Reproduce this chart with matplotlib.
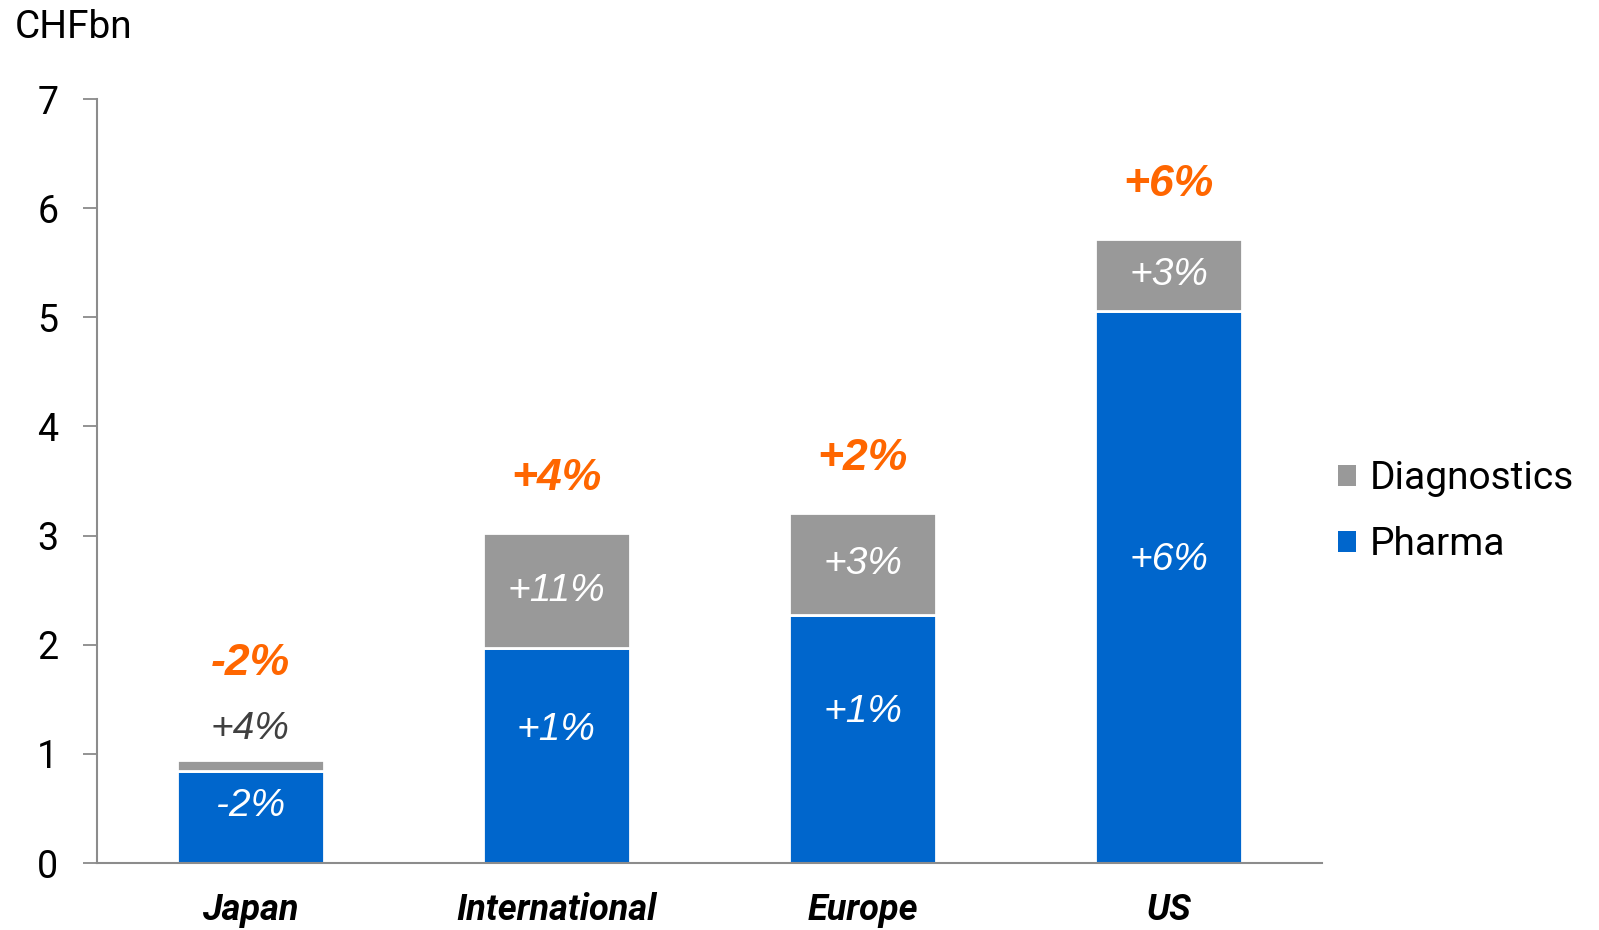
import matplotlib
matplotlib.use("Agg")
import matplotlib.pyplot as plt
from matplotlib.patches import Patch
from matplotlib import font_manager

regions = ["Japan", "International", "Europe", "US"]
pharma = [0.84, 1.97, 2.27, 5.06]
diagnostics = [0.10, 1.05, 0.94, 0.66]
pharma_growth = ["-2%", "+1%", "+1%", "+6%"]
diagnostics_growth = ["+4%", "+11%", "+3%", "+3%"]
total_growth = ["-2%", "+4%", "+2%", "+6%"]
y_ticks = [0, 1, 2, 3, 4, 5, 6, 7]

BLUE = "#0066CC"
GREY = "#999999"
ORANGE = "#FF6600"

names = {f.name for f in font_manager.fontManager.ttflist}
base_font = "Roboto" if "Roboto" in names else "DejaVu Sans"
wide_font = "Liberation Sans" if "Liberation Sans" in names else base_font
plt.rcParams["font.family"] = [base_font, "DejaVu Sans"]

fig = plt.figure(figsize=(15.99, 9.30), dpi=100)
ax = fig.add_axes([0.0607, 0.072, 0.7661, 0.8215])

x = list(range(len(regions)))
width = 0.48
ax.bar(x, pharma, width, color=BLUE, edgecolor="white", linewidth=2)
ax.bar(x, diagnostics, width, bottom=pharma, color=GREY, edgecolor="white", linewidth=2)

ax.set_xlim(-0.5, len(regions) - 0.5)
ax.set_ylim(0, 7)
ax.set_yticks(y_ticks)
ax.set_yticklabels([str(t) for t in y_ticks], fontsize=27)
ax.tick_params(axis="y", direction="out", length=10, width=1.2, color="#808080", pad=18)
ax.set_xticks(x)
ax.set_xticklabels(regions, fontsize=26, fontweight="bold", fontstyle="italic")
ax.tick_params(axis="x", length=0, pad=21)

for side in ("top", "right"):
    ax.spines[side].set_visible(False)
for side in ("left", "bottom"):
    ax.spines[side].set_color("#8c8c8c")
    ax.spines[side].set_linewidth(1.5)

label_kw = dict(ha="center", va="center", fontsize=28, fontstyle="italic",
                fontweight="normal", family=[wide_font, "DejaVu Sans"])
total_kw = dict(ha="center", va="center", fontsize=32, fontweight="bold",
                fontstyle="italic", color=ORANGE, family=[wide_font, "DejaVu Sans"])
for i in x:
    p, d = pharma[i], diagnostics[i]
    total = p + d
    ax.text(i, p / 2 + min(0.25, 0.12 * p), pharma_growth[i], color="white", **label_kw)
    if d > 0.3:
        ax.text(i, p + d / 2, diagnostics_growth[i], color="white", **label_kw)
        ax.text(i, total + 0.5, total_growth[i], **total_kw)
    else:
        ax.text(i, total + 0.29, diagnostics_growth[i], color="#404040", **label_kw)
        ax.text(i, total + 0.89, total_growth[i], **total_kw)

fig.text(0.009, 0.97, "CHFbn", fontsize=28, ha="left", va="center")

handles = [Patch(facecolor=GREY, label="Diagnostics"), Patch(facecolor=BLUE, label="Pharma")]
fig.legend(handles=handles, loc="center left", bbox_to_anchor=(0.815, 0.45),
           frameon=False, fontsize=28, handlelength=0.45, handleheight=0.45,
           handletextpad=0.35, labelspacing=0.75)

fig.savefig("out.png", dpi=100)
